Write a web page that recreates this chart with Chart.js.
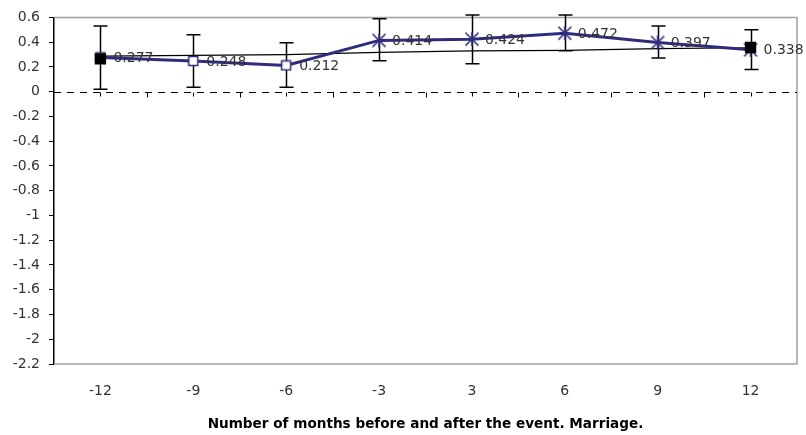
<!DOCTYPE html>
<html>
<head>
<meta charset="utf-8">
<script src="https://cdn.jsdelivr.net/npm/chart.js@4/dist/chart.umd.min.js"></script>
<style>
html,body{margin:0;padding:0;background:#fff;}
#wrap{width:806px;height:435px;position:relative;}
</style>
</head>
<body>
<div id="wrap"><canvas id="c" width="806" height="435"></canvas></div>
<script>
const categories = ['-12', '-9', '-6', '-3', '3', '6', '9', '12'];
const meanValues = [0.277, 0.248, 0.212, 0.414, 0.424, 0.472, 0.397, 0.338];
const errHigh = [0.53, 0.46, 0.395, 0.59, 0.62, 0.62, 0.53, 0.50];
const errLow = [0.02, 0.035, 0.035, 0.25, 0.225, 0.33, 0.272, 0.18];
const trendValues = [0.287, 0.293, 0.300, 0.318, 0.330, 0.334, 0.347, 0.355];
const endpointValues = [0.265, null, null, null, null, null, null, 0.357];
const markerKinds = ['square', 'square', 'square', 'star', 'star', 'star', 'star', 'star'];
const yTicks = [0.6, 0.4, 0.2, 0, -0.2, -0.4, -0.6, -0.8, -1, -1.2, -1.4, -1.6, -1.8, -2, -2.2];
const xTitle = 'Number of months before and after the event. Marriage.';

const NAVY = '#2F2C7D';

function makeStar() {
  const cv = document.createElement('canvas');
  cv.width = 16; cv.height = 16;
  const g = cv.getContext('2d');
  g.strokeStyle = NAVY; g.lineWidth = 1.6;
  g.beginPath();
  g.moveTo(1.5, 1.5); g.lineTo(14.5, 14.5);
  g.moveTo(14.5, 1.5); g.lineTo(1.5, 14.5);
  g.moveTo(8, 1); g.lineTo(8, 15);
  g.stroke();
  return cv;
}
function makeSquare() {
  const cv = document.createElement('canvas');
  cv.width = 12; cv.height = 12;
  const g = cv.getContext('2d');
  g.fillStyle = '#fff'; g.fillRect(1, 1, 10, 10);
  g.strokeStyle = NAVY; g.lineWidth = 1.5;
  g.strokeRect(1.5, 1.5, 9, 9);
  return cv;
}
const starImg = makeStar();
const squareImg = makeSquare();
const pointStyles = markerKinds.map(k => k === 'star' ? starImg : squareImg);

const plotArea = {left: 54, right: 800, top: 15, bottom: 364};

const decorPlugin = {
  id: 'decor',
  beforeDatasetsDraw(chart) {
    const ctx = chart.ctx;
    const y = chart.scales.y, x = chart.scales.x;
    const ca = chart.chartArea;
    ctx.save();
    ctx.strokeStyle = '#A0A0A0';
    ctx.lineWidth = 1.5;
    ctx.beginPath();
    ctx.moveTo(ca.left, ca.top); ctx.lineTo(ca.right, ca.top);
    ctx.lineTo(ca.right, ca.bottom); ctx.lineTo(ca.left, ca.bottom);
    ctx.stroke();
    const y0 = Math.round(y.getPixelForValue(0)) + 0.5;
    ctx.strokeStyle = '#000';
    ctx.lineWidth = 1;
    ctx.setLineDash([7, 6]);
    ctx.beginPath();
    ctx.moveTo(ca.left, y0); ctx.lineTo(ca.right, y0);
    ctx.stroke();
    ctx.setLineDash([]);
    const n = categories.length;
    for (let i = 0; i < n; i++) {
      const cx = Math.round(x.getPixelForValue(i)) + 0.5;
      ctx.beginPath(); ctx.moveTo(cx, y0); ctx.lineTo(cx, y0 + 4); ctx.stroke();
      if (i > 0) {
        const bx = Math.round((x.getPixelForValue(i - 1) + x.getPixelForValue(i)) / 2) + 0.5;
        ctx.beginPath(); ctx.moveTo(bx, y0); ctx.lineTo(bx, y0 + 5); ctx.stroke();
      }
    }
    ctx.strokeStyle = '#000';
    ctx.lineWidth = 1.5;
    for (let i = 0; i < n; i++) {
      const cx = Math.round(x.getPixelForValue(i)) + 0.5;
      const yh = y.getPixelForValue(errHigh[i]);
      const yl = y.getPixelForValue(errLow[i]);
      ctx.beginPath();
      ctx.moveTo(cx, yh); ctx.lineTo(cx, yl);
      ctx.moveTo(cx - 7, yh); ctx.lineTo(cx + 7, yh);
      ctx.moveTo(cx - 7, yl); ctx.lineTo(cx + 7, yl);
      ctx.stroke();
    }
    ctx.restore();
  },
  afterDatasetsDraw(chart) {
    const ctx = chart.ctx;
    const meta = chart.getDatasetMeta(0);
    ctx.save();
    ctx.font = '14px "DejaVu Sans"';
    ctx.fillStyle = '#333';
    ctx.textAlign = 'left';
    ctx.textBaseline = 'middle';
    meta.data.forEach((pt, i) => {
      ctx.fillText(meanValues[i].toFixed(3), pt.x + 13, pt.y + 1);
    });
    ctx.restore();
  }
};

new Chart(document.getElementById('c'), {
  type: 'line',
  data: {
    labels: categories,
    datasets: [
      {
        data: meanValues,
        borderColor: NAVY,
        borderWidth: 3,
        pointStyle: pointStyles,
        pointRadius: 6,
        tension: 0,
        order: 2
      },
      {
        data: trendValues,
        borderColor: '#000',
        borderWidth: 1.2,
        pointRadius: 0,
        tension: 0,
        order: 3
      },
      {
        data: endpointValues,
        showLine: false,
        pointStyle: 'rect',
        pointRadius: 8,
        backgroundColor: '#000',
        borderColor: '#000',
        borderWidth: 0,
        order: 1
      }
    ]
  },
  options: {
    responsive: false,
    animation: false,
    devicePixelRatio: 1,
    layout: {padding: {top: 15, right: 1, bottom: 0, left: 0}},
    plugins: {legend: {display: false}, tooltip: {enabled: false}},
    scales: {
      x: {
        type: 'category',
        offset: true,
        grid: {display: false},
        border: {display: false},
        ticks: {color: '#333', font: {family: 'DejaVu Sans', size: 14}, padding: 11, maxRotation: 0},
        title: {display: true, text: xTitle, color: '#000', font: {family: 'DejaVu Sans', size: 13.6, weight: 'bold'}, padding: {top: 4, bottom: 2}},
        afterFit(s) { s.height = 435 - plotArea.bottom; }
      },
      y: {
        min: -2.2,
        max: 0.6,
        afterBuildTicks(s) { s.ticks = yTicks.map(v => ({value: v})); },
        grid: {drawOnChartArea: false, drawTicks: true, tickLength: 5, color: '#000', lineWidth: 1},
        border: {display: true, color: '#000', width: 1.5},
        ticks: {color: '#333', font: {family: 'DejaVu Sans', size: 14}, padding: 9,
          callback: (v) => String(Math.round(v * 10) / 10)},
        afterFit(s) { s.width = plotArea.left; }
      }
    }
  },
  plugins: [decorPlugin]
});
</script>
</body>
</html>
